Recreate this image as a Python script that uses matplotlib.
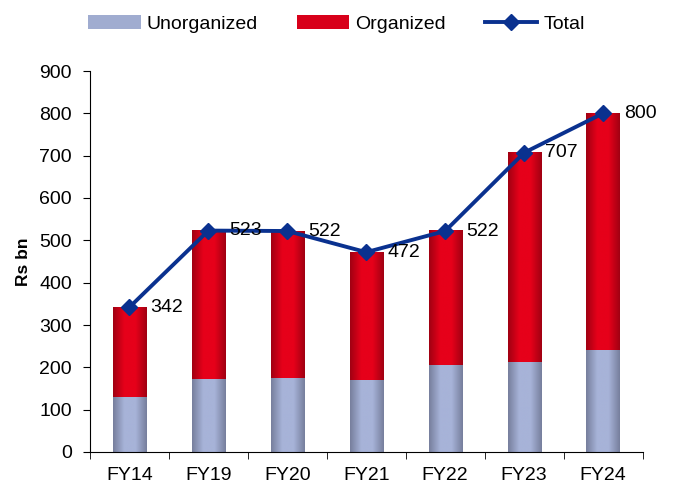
import numpy as np
import matplotlib.pyplot as plt
from matplotlib.colors import LinearSegmentedColormap
from matplotlib.patches import Patch
from matplotlib.lines import Line2D

plt.rcParams['font.family'] = ['Liberation Sans', 'DejaVu Sans']

years = ['FY14', 'FY19', 'FY20', 'FY21', 'FY22', 'FY23', 'FY24']
total = [342, 523, 522, 472, 522, 707, 800]
unorganized = [130, 172, 175, 170, 205, 212, 241]
organized = [t - u for t, u in zip(total, unorganized)]

# horizontal gradients like the original bars
cm_unorg = LinearSegmentedColormap.from_list('u', ['#767e9c', '#a7b3d8', '#a7b3d8', '#767e9c'])
cm_org = LinearSegmentedColormap.from_list('o', ['#a00012', '#e6001a', '#e6001a', '#a00012'])
grad = np.linspace(0, 1, 256).reshape(1, -1)

fig = plt.figure(figsize=(6.73, 4.84), dpi=100)
ax = fig.add_axes([90/673, 32/484, (642.5-90)/673, (452-71)/484])

x = np.arange(len(years))
w = 0.42
for i in x:
    ax.imshow(grad, extent=[i - w/2, i + w/2, 0, unorganized[i]], aspect='auto',
              cmap=cm_unorg, zorder=2)
    ax.imshow(grad, extent=[i - w/2, i + w/2, unorganized[i], total[i]], aspect='auto',
              cmap=cm_org, zorder=2)

ax.plot(x, total, color='#0a318f', lw=2.8, marker='D', ms=8.5, zorder=3)
for i in x:
    ax.annotate(str(total[i]), (i, total[i]), xytext=(15, 0), textcoords='offset points',
                ha='left', va='center', fontsize=14, zorder=4)

ax.set_xlim(-0.5, len(years) - 0.5)
ax.set_ylim(0, 900)
ax.set_yticks(range(0, 901, 100))
ax.set_xticks(x)
ax.set_xticklabels(years)
ax.set_xticks(np.arange(-0.5, len(years), 1), minor=True)
ax.tick_params(axis='x', which='major', length=0, labelsize=14, pad=11)
ax.tick_params(axis='x', which='minor', length=5, direction='out')
ax.tick_params(axis='y', labelsize=14, length=5, direction='out', pad=8)
for s in ['top', 'right']:
    ax.spines[s].set_visible(False)
ax.set_ylabel('Rs bn', fontsize=12.5, fontweight='bold', labelpad=6)

handles = [Patch(facecolor='#a0acd0', edgecolor='none', label='Unorganized'),
           Patch(facecolor='#d8001a', edgecolor='none', label='Organized'),
           Line2D([0], [0], color='#0a318f', lw=2.8, marker='D', ms=8.5, label='Total')]
fig.legend(handles=handles, loc='center', bbox_to_anchor=(0.5, 0.95), ncol=3,
           frameon=False, fontsize=14, handlelength=2.7, handleheight=0.75,
           columnspacing=2.0, handletextpad=0.3)

fig.savefig('out.png', dpi=100)
